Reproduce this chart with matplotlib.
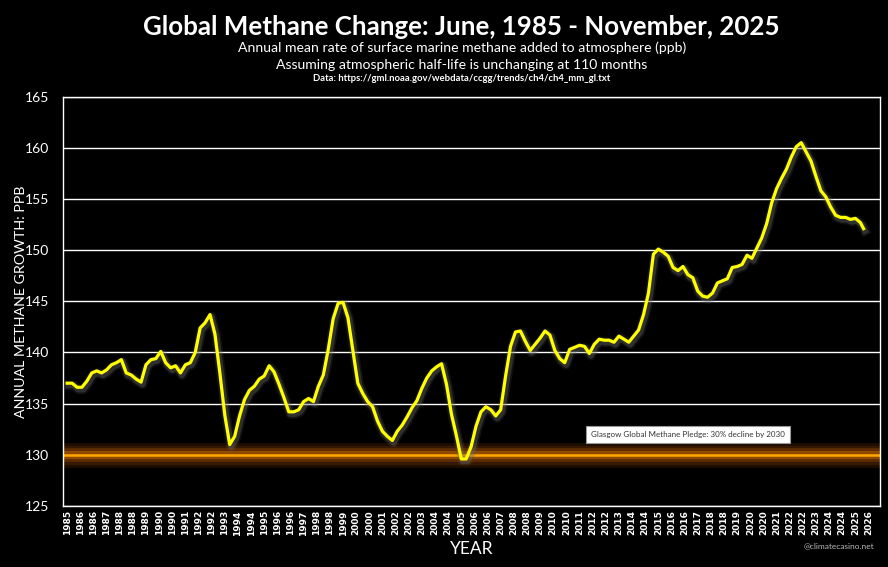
import pandas as pd
import matplotlib.pyplot as plt
import matplotlib.patheffects as pe

plt.rcParams['font.family'] = ['Lato', 'DejaVu Sans']

# quarterly readings (Jun 1985, Sep 1985, ...) of the growth curve, ppb
growth_ppb = [
    137.0, 137.0, 136.6, 136.6, 137.2, 138.0, 138.2, 138.0, 138.3, 138.8,
    139.0, 139.3, 138.0, 137.8, 137.4, 137.1, 138.8, 139.3, 139.4, 140.1,
    139.0, 138.5, 138.7, 138.0, 138.8, 139.0, 140.0, 142.4, 142.9, 143.7,
    141.8, 138.0, 133.9, 131.0, 131.8, 133.8, 135.4, 136.3, 136.7, 137.4,
    137.7, 138.7, 138.1, 136.9, 135.6, 134.2, 134.2, 134.4, 135.2, 135.5,
    135.2, 136.7, 137.8, 140.3, 143.3, 144.8, 144.9, 143.4, 140.2, 137.0,
    136.0, 135.2, 134.7, 133.3, 132.3, 131.8, 131.4, 132.3, 132.9, 133.7,
    134.6, 135.3, 136.5, 137.5, 138.2, 138.6, 138.9, 136.9, 134.0, 131.9,
    129.6, 129.6, 130.8, 132.8, 134.2, 134.7, 134.4, 133.8, 134.4, 137.7,
    140.6, 142.0, 142.1, 141.1, 140.2, 140.8, 141.4, 142.1, 141.7, 140.2,
    139.4, 139.0, 140.3, 140.5, 140.7, 140.6, 139.9, 140.8, 141.3, 141.2,
    141.2, 141.0, 141.6, 141.3, 141.0, 141.6, 142.2, 143.7, 145.8, 149.6,
    150.1, 149.8, 149.4, 148.3, 148.0, 148.4, 147.6, 147.3, 146.0, 145.5,
    145.4, 145.8, 146.8, 147.0, 147.2, 148.3, 148.4, 148.6, 149.5, 149.2,
    150.2, 151.2, 152.6, 154.6, 156.0, 157.0, 157.9, 159.1, 160.1, 160.5,
    159.6, 158.7, 157.2, 155.8, 155.2, 154.2, 153.4, 153.2, 153.2, 153.0,
    153.1, 152.7,
]
last_month = "2025-11-01"
last_value = 152.1

pledge_level = 130
pledge_text = "Glasgow Global Methane Pledge: 30% decline by 2030"

dates = list(pd.date_range("1985-06-01", periods=len(growth_ppb), freq="3MS")) + [pd.Timestamp(last_month)]
values = growth_ppb + [last_value]
month_idx = [(d.year - 1985) * 12 + d.month - 6 for d in dates]

tick_dates = pd.date_range("1985-06-01", periods=62, freq="8MS")
tick_pos = [(d.year - 1985) * 12 + d.month - 6 for d in tick_dates]
tick_labels = [str(d.year) for d in tick_dates]

fig = plt.figure(figsize=(8.88, 5.67), dpi=100, facecolor="black")
ax = fig.add_axes([0.071, 0.1076, 0.92, 0.722], facecolor="black")

# pledge line with soft orange glow
glow = [pe.Stroke(linewidth=w, foreground=c, alpha=a) for w, c, a in
        [(18, "#5A2800", 0.3), (14, "#6B3000", 0.35), (10, "#8A4200", 0.45),
         (6, "#B05E00", 0.6)]]
ax.axhline(pledge_level, color="#FFA500", lw=1.8, zorder=2,
           path_effects=glow + [pe.Normal()])

ax.plot(month_idx, values, color="#FFFF00", lw=2.3, zorder=4, solid_joinstyle="round",
        path_effects=[pe.Stroke(linewidth=7, foreground="#555555", alpha=0.2, offset=(1, -1.5)),
                      pe.Stroke(linewidth=4.5, foreground="#777777", alpha=0.3, offset=(1, -1.5)),
                      pe.Normal()])

ax.set_ylim(125, 165)
ax.set_yticks(range(125, 166, 5))
ax.set_xlim(-2.5, 495)
ax.set_xticks(tick_pos)
ax.set_xticklabels(tick_labels, rotation=90, fontsize=6.5, fontweight="bold", color="white",
                   family="DejaVu Sans")
ax.tick_params(axis="x", length=0, pad=3)
ax.tick_params(axis="y", length=0, labelsize=10, labelcolor="white", pad=10)
ax.grid(axis="y", color="white", lw=1)
ax.set_axisbelow(True)
for s in ax.spines.values():
    s.set_color("white")
    s.set_linewidth(1)

ax.set_ylabel("ANNUAL METHANE GROWTH: PPB", color="white", fontsize=10.3, va="center")
ax.yaxis.set_label_coords(-0.052, 0.5)
ax.set_xlabel("YEAR", color="white", fontsize=12.5, labelpad=4)

ax.text(0.765, 0.174, pledge_text, transform=ax.transAxes, fontsize=5.8, color="#333333",
        ha="center", va="center", zorder=5,
        bbox=dict(boxstyle="square,pad=0.6", facecolor="white", edgecolor="#999999", lw=0.8))

cx = 0.52
fig.text(cx, 0.953, "Global Methane Change: June, 1985 - November, 2025", ha="center",
         va="center", color="white", fontsize=18.6, fontweight="bold")
fig.text(cx, 0.915, "Annual mean rate of surface marine methane added to atmosphere (ppb)",
         ha="center", va="center", color="white", fontsize=10.1)
fig.text(cx, 0.886, "Assuming atmospheric half-life is unchanging at 110 months",
         ha="center", va="center", color="white", fontsize=10.1)
fig.text(cx, 0.862, "Data: https://gml.noaa.gov/webdata/ccgg/trends/ch4/ch4_mm_gl.txt",
         ha="center", va="center", color="white", fontsize=6.8, fontweight="bold")
fig.text(0.985, 0.037, "@climatecasino.net", ha="right", va="center", color="#BBBBBB", fontsize=6)

fig.savefig("out.png", dpi=100, facecolor="black")
